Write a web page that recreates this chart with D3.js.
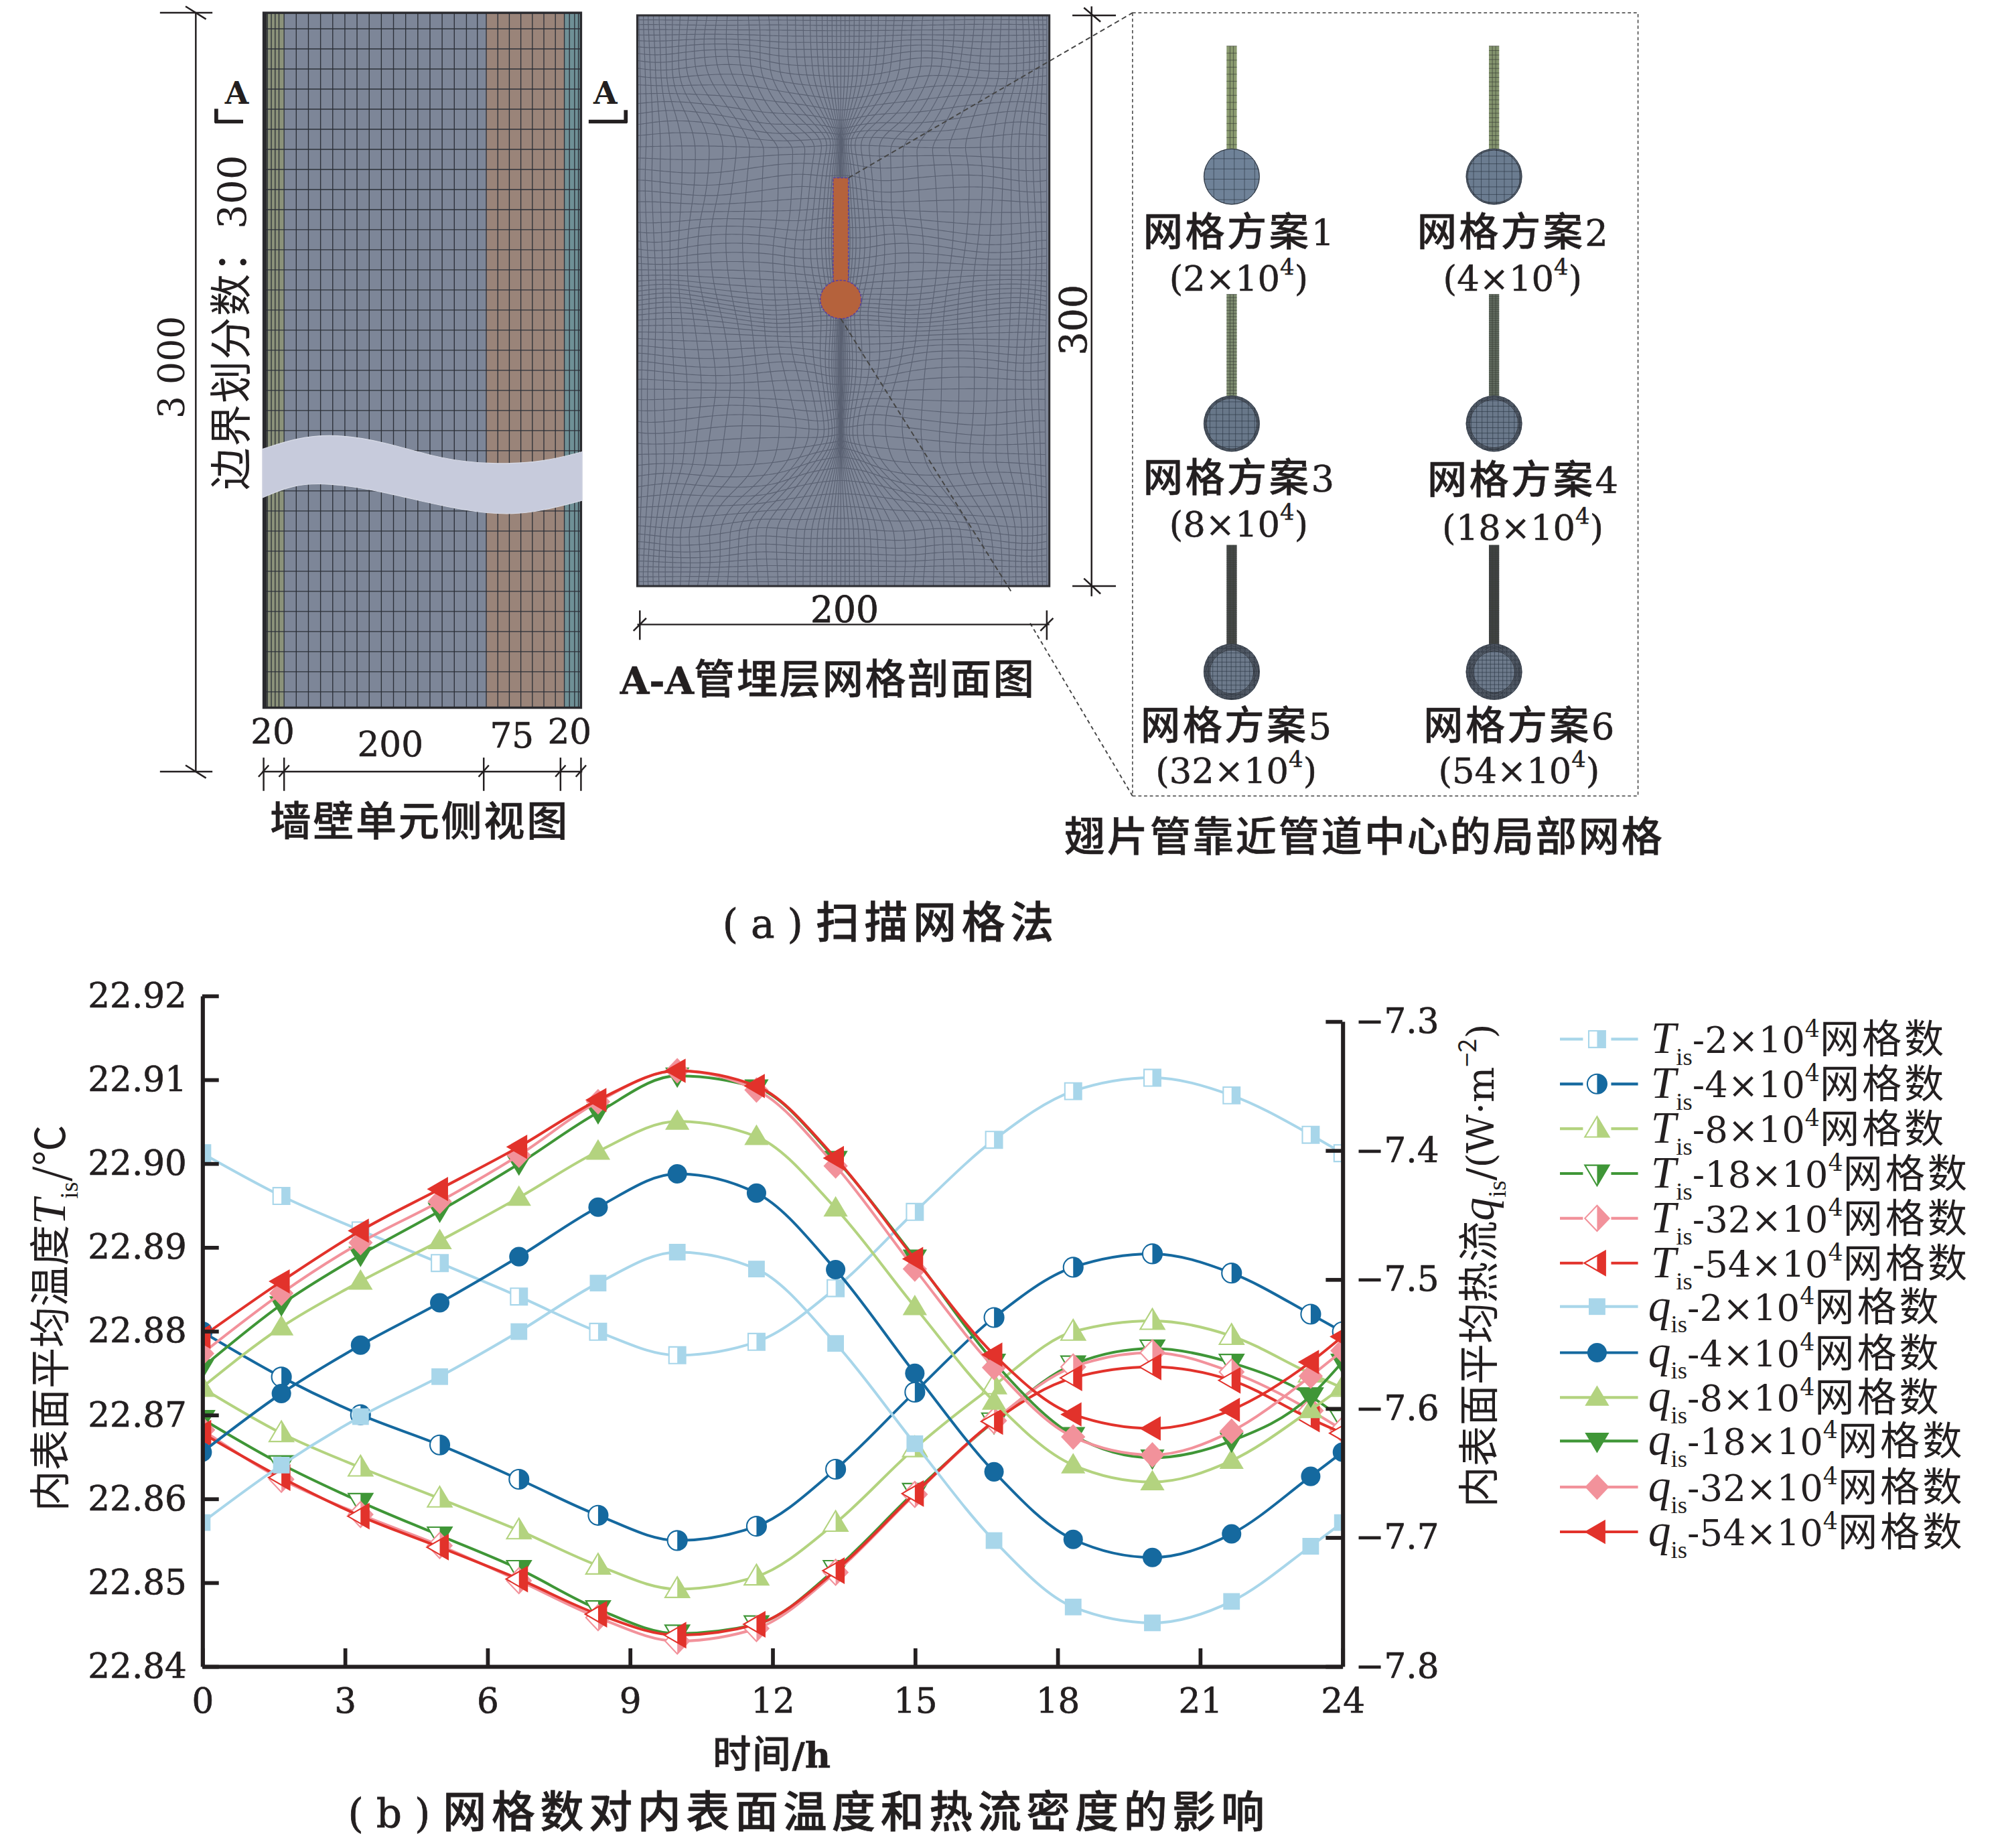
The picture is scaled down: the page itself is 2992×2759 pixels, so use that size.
<!DOCTYPE html>
<html><head><meta charset="utf-8">
<script src="https://cdn.jsdelivr.net/npm/d3@7/dist/d3.min.js"></script>
<style>html,body{margin:0;padding:0;background:#fff}svg{display:block}</style>
</head><body><svg id="c"></svg>
<script>
const hours=[0,1.667,3.333,5,6.667,8.333,10,11.667,13.333,15,16.667,18.333,20,21.667,23.333,24];
const xTicks=[0,3,6,9,12,15,18,21,24];
const yLeftTicks=[22.84,22.85,22.86,22.87,22.88,22.89,22.90,22.91,22.92];
const yRightTicks=[-7.8,-7.7,-7.6,-7.5,-7.4,-7.3];
const meshCounts=["2","4","8","18","32","54"];
const T2=[22.9012,22.8961,22.8920,22.8881,22.8841,22.8799,22.8771,22.8787,22.8851,22.8942,22.9028,22.9086,22.9102,22.9081,22.9034,22.9012];
const T4=[22.8799,22.8745,22.8700,22.8664,22.8623,22.8580,22.8550,22.8567,22.8635,22.8727,22.8816,22.8876,22.8892,22.8869,22.8820,22.8799];
const T8=[22.8732,22.8678,22.8637,22.8600,22.8562,22.8520,22.8492,22.8507,22.8571,22.8660,22.8735,22.8799,22.8812,22.8794,22.8749,22.8732];
const T18=[22.8695,22.8641,22.8596,22.8556,22.8516,22.8468,22.8439,22.8450,22.8516,22.8608,22.8692,22.8760,22.8779,22.8762,22.8722,22.8695];
const T32=[22.8682,22.8623,22.8581,22.8544,22.8502,22.8458,22.8430,22.8445,22.8512,22.8605,22.8693,22.8757,22.8774,22.8751,22.8705,22.8682];
const T54=[22.8678,22.8625,22.8579,22.8542,22.8504,22.8462,22.8437,22.8450,22.8514,22.8606,22.8692,22.8744,22.8757,22.8741,22.8695,22.8678];
const q2=[-7.6886,-7.6441,-7.6065,-7.5755,-7.5406,-7.5030,-7.4790,-7.4921,-7.5498,-7.6275,-7.7026,-7.7541,-7.7664,-7.7498,-7.7070,-7.6886];
const q4=[-7.6341,-7.5886,-7.5511,-7.5183,-7.4825,-7.4441,-7.4183,-7.4332,-7.4926,-7.5729,-7.6493,-7.7017,-7.7157,-7.6974,-7.6528,-7.6341];
const q8=[-7.5838,-7.5371,-7.5017,-7.4703,-7.4367,-7.4009,-7.3777,-7.3895,-7.4450,-7.5214,-7.5948,-7.6441,-7.6572,-7.6406,-7.6013,-7.5838];
const q18=[-7.5685,-7.5196,-7.4812,-7.4471,-7.4105,-7.3707,-7.3423,-7.3515,-7.4070,-7.4834,-7.5642,-7.6210,-7.6384,-7.6253,-7.5904,-7.5642];
const q32=[-7.5576,-7.5109,-7.4716,-7.4397,-7.4039,-7.3624,-7.3384,-7.3533,-7.4122,-7.4921,-7.5685,-7.6223,-7.6362,-7.6179,-7.5751,-7.5554];
const q54=[-7.5445,-7.5017,-7.4624,-7.4301,-7.3974,-7.3611,-7.3384,-7.3502,-7.4061,-7.4843,-7.5585,-7.6048,-7.6157,-7.6013,-7.5642,-7.5445];
const colors=["#a8d6ea","#15699f","#b3d37f","#3f9637","#f2929b","#e2322b"];
const shapes=["square","circle","up","down","diamond","left"];

const W=1566,H=W*2759/2992;
const ink="#231f20",SERIF='"DejaVu Serif","Noto Sans CJK SC",serif',CJK='"Noto Sans CJK SC","DejaVu Serif",sans-serif';
const svg=d3.select("#c").attr("width",2992).attr("height",2759).attr("viewBox",`0 0 ${W} ${H}`);
svg.append("rect").attr("width",W).attr("height",H).attr("fill","#fff");
const defs=svg.append("defs");
defs.append("clipPath").attr("id","rightHalf").append("rect").attr("x",0).attr("y",-20).attr("width",20).attr("height",40);

function rich(sel,parts){
  let shift=0;
  const base=parseFloat(sel.attr("font-size"));
  parts.forEach(p=>{
    const s=sel.append("tspan").text(p.t);
    const target=p.sub?0.3:p.sup?-0.42:0;
    const fs=(p.sub||p.sup)?0.62:1;
    const dy=(target-shift)*base;
    if(dy) s.attr("dy",dy);
    shift=target;
    if(p.sub||p.sup) s.attr("font-size",base*fs);
    if(p.it) s.attr("font-style","italic").attr("font-family",'"Liberation Serif",serif').attr("font-size",base*1.14);
    if(p.ser) s.attr("font-family",SERIF).attr("font-size",(p.sub||p.sup)?base*fs*.95:base*.92);
    if(p.sub) s.attr("font-family",'"Liberation Serif",serif');
    if(p.ls) s.attr("letter-spacing",p.ls);
    if(p.b) s.attr("font-weight",700);
  });
}
function label(x,y,txt,size,opt={}){
  const t=svg.append("text").attr("x",x).attr("y",y).attr("font-size",size)
    .attr("font-family",opt.family||CJK).attr("font-weight",opt.weight||500)
    .attr("fill",ink).attr("text-anchor",opt.anchor||"middle");
  if(opt.rotate) t.attr("transform",`rotate(-90 ${x} ${y})`);
  if(opt.ls) t.attr("letter-spacing",opt.ls);
  if(opt.heavy) t.attr("stroke",ink).attr("stroke-width",opt.heavy);
  if(Array.isArray(txt)) rich(t,txt); else t.text(txt);
  return t;
}
function seg(x1,y1,x2,y2,w=1.3,c=ink,dash){
  const l=svg.append("line").attr("x1",x1).attr("y1",y1).attr("x2",x2).attr("y2",y2).attr("stroke",c).attr("stroke-width",w);
  if(dash) l.attr("stroke-dasharray",dash);
  return l;
}

/* ---------- panel (a): wall side view ---------- */
const wall=svg.append("g");
const wx0=206,wx1=454,wy0=10,wy1=553;
[[206,222,"#8b927a"],[222,380,"#7d8698"],[380,441,"#9a8479"],[441,454,"#6f9096"]].forEach(d=>
  wall.append("rect").attr("x",d[0]).attr("y",wy0).attr("width",d[1]-d[0]).attr("height",wy1-wy0).attr("fill",d[2]));
const vLines=[209,212,215,218,222,231.5,241,250.5,260,269.5,279,288.5,298,307.5,317,326.5,336,345.5,355,364.5,373,380,389,398,407,416,425,434,441,445,449,452];
vLines.forEach(x=>wall.append("line").attr("x1",x).attr("x2",x).attr("y1",wy0).attr("y2",wy1).attr("stroke","#2c3038").attr("stroke-width",.7));
d3.range(wy0+12.5,wy1,15.7).forEach(y=>wall.append("line").attr("x1",wx0).attr("x2",wx1).attr("y1",y).attr("y2",y).attr("stroke","#2c3038").attr("stroke-width",.7));
wall.append("rect").attr("x",wx0).attr("y",wy0).attr("width",wx1-wx0).attr("height",wy1-wy0).attr("fill","none").attr("stroke","#2a2a2e").attr("stroke-width",1.8);
wall.append("rect").attr("x",wx0).attr("y",wy0).attr("width",2.5).attr("height",wy1-wy0).attr("fill","#2a2a2e");
const bandTop=d3.line().curve(d3.curveBasis)([[205,351],[232,342],[262,339],[300,345],[345,359],[385,363],[425,361],[455,353]]);
const bandBot=d3.line().curve(d3.curveBasis)([[455,391],[425,399],[395,403],[350,397],[300,384],[255,377],[228,379],[205,389]]);
wall.append("path").attr("d",bandTop+"L"+bandBot.slice(1)+"Z").attr("fill","#c7cbdc").attr("stroke","#d8dbe6").attr("stroke-width",.6);

seg(153,10,153,603);seg(125,10,166,10);seg(125,603,166,603);seg(145,5,161,15);seg(145,598,161,608);
label(144,287,"3 000",28,{rotate:true,family:SERIF,weight:400});
label(192,252,[{t:"边界划分数：",ls:1},{t:"300",ser:true}],33,{rotate:true,weight:400});
seg(168,95,190,95,3);seg(169,96,169,85,3);
label(185,81,"A",24,{family:SERIF,weight:700});
seg(460,95,490,95,3);seg(489,96,489,86,3);
label(473,81,"A",24,{family:SERIF,weight:700});
seg(205,603,455,603);
[206,222,378,438,454].forEach(x=>{seg(x,592,x,618);seg(x-4,607,x+4,598);});
label(213,581,"20",27,{family:SERIF,weight:400,heavy:.3});
label(305,591,"200",27,{family:SERIF,weight:400,heavy:.3});
label(400,584,"75",27,{family:SERIF,weight:400,heavy:.3});
label(445,581,"20",27,{family:SERIF,weight:400,heavy:.3});
label(328,653,"墙壁单元侧视图",32,{ls:1.4,heavy:.3});

/* ---------- panel (a): A-A section with warped mesh ---------- */
const sx0=498,sx1=820,sy0=12,sy1=458;
svg.append("rect").attr("x",sx0).attr("y",sy0).attr("width",sx1-sx0).attr("height",sy1-sy0).attr("fill","#7f8798");
defs.append("clipPath").attr("id","sec").append("rect").attr("x",sx0).attr("y",sy0).attr("width",sx1-sx0).attr("height",sy1-sy0);
const fx=657,halfW=161,midY=(sy0+sy1)/2,halfH=(sy1-sy0)/2;
const smooth=(a,b,v)=>{const t=Math.max(0,Math.min(1,(v-a)/(b-a)));return t*t*(3-2*t);};
const sCurve=(t,a)=>t-a*Math.sin(2*Math.PI*t)/(2*Math.PI);
const meshBlobs=[[105,44,28,.72],[165,46,30,.42],[236,42,26,.62],[300,54,36,.62],[355,50,28,.66]];
function warp(u,v){                 // u,v in [-1,1]
  const y0=midY+halfH*Math.sign(v)*sCurve(Math.abs(v),.42);
  const yBump=smooth(50,120,y0)*(1-smooth(360,420,y0));
  const g=1+0.35*yBump;
  const dx0=Math.sign(u)*halfW*sCurve(Math.pow(Math.abs(u),g),.42);
  let dx=dx0,y=y0;
  meshBlobs.forEach(b=>{
    const d=dx0,e=y0-b[0];
    const w=b[3]*Math.exp(-d*d/(2*b[1]*b[1])-e*e/(2*b[2]*b[2]));
    dx-=w*d; y-=w*e;
  });
  const edge=(1-Math.abs(u)**6)*(1-Math.abs(v)**6)*smooth(15,70,Math.abs(dx0));
  const wob=edge*4.5;
  return [fx+dx+wob*Math.sin(y0/27+dx0/41)*Math.cos(dx0/17),
          y+wob*Math.sin(dx0/23-y0/49)*Math.cos(y0/15)];
}
const mesh=svg.append("g").attr("clip-path","url(#sec)");
const meshLine=d3.line();
const nx=56,ny=72;
d3.range(nx+1).forEach(i=>{
  const u=-1+2*i/nx;
  mesh.append("path").attr("d",meshLine(d3.range(0,201).map(j=>warp(u,-1+2*j/200)))).attr("fill","none").attr("stroke","#5a6172").attr("stroke-width",.6);
});
d3.range(ny+1).forEach(i=>{
  const v=-1+2*i/ny;
  mesh.append("path").attr("d",meshLine(d3.range(0,201).map(j=>warp(-1+2*j/200,v)))).attr("fill","none").attr("stroke","#5a6172").attr("stroke-width",.6);
});
svg.append("rect").attr("x",sx0).attr("y",sy0).attr("width",sx1-sx0).attr("height",sy1-sy0).attr("fill","none").attr("stroke","#2e2e32").attr("stroke-width",1.6);
svg.append("rect").attr("x",651).attr("y",139).attr("width",12).attr("height",84).attr("fill","#b5623c").attr("stroke","#5a3fa0").attr("stroke-width",.8).attr("stroke-dasharray","2 1");
svg.append("ellipse").attr("cx",657).attr("cy",234).attr("rx",16).attr("ry",15).attr("fill","#b5623c").attr("stroke","#5a3fa0").attr("stroke-width",.8).attr("stroke-dasharray","2 1");
seg(663,139,885,10,1,"#444","4 2.5");
seg(657,249,790,462,1,"#444","4 2.5");
seg(805,487,885,622,1,"#444","3 2.5");
seg(853,5,853,466);seg(838,12,872,12);seg(838,458,872,458);seg(847,6,860,17);seg(847,452,860,464);
label(849,250,"300",29,{rotate:true,family:SERIF,weight:400,heavy:.3});
seg(498,488,820,488);seg(500,477,500,500);seg(818,477,818,500);seg(495,493,505,483);seg(813,493,823,483);
label(660,486,"200",28,{family:SERIF,weight:400,heavy:.4});
label(647,542,[{t:"A-A",ser:true,b:true},{t:"管埋层网格剖面图",ls:1.4}],32,{family:CJK,heavy:.3});

/* ---------- panel (a): local mesh schemes ---------- */
svg.append("rect").attr("x",885).attr("y",10).attr("width",395).attr("height",612).attr("fill","none").attr("stroke","#555").attr("stroke-width",.9).attr("stroke-dasharray","2.5 2");
const finCols=[962.5,1167.5],finRows=[[36,138],[230,331],[426,525]];
const cell=[8,6,5,4.2,3.6,3.2];
const finCol=["#8a9a6f","#84946e","#7c8a6e","#626c60","#47494a","#404244"];
const ballCol=["#6f8298","#6b7c90","#687789","#6a788a","#6d7a8b","#6d7a8b"];
const rings=[1,2,3,4,6,7];
meshCounts.forEach((m,i)=>{
  const cx=finCols[i%2],[ft,cy]=finRows[Math.floor(i/2)],g=svg.append("g");
  const rx=22,ry=22;
  g.append("rect").attr("x",cx-4).attr("y",ft).attr("width",8).attr("height",cy-ry-ft+2).attr("fill",finCol[i]);
  d3.range(ft,cy-ry,Math.max(1.5,cell[i]-2.5)).forEach(y=>g.append("line").attr("x1",cx-4).attr("x2",cx+4).attr("y1",y).attr("y2",y).attr("stroke","#3b4038").attr("stroke-width",.35));
  [-1.3,1.3].forEach(o=>g.append("line").attr("x1",cx+o).attr("x2",cx+o).attr("y1",ft).attr("y2",cy-ry).attr("stroke","#3b4038").attr("stroke-width",.35));
  g.append("ellipse").attr("cx",cx).attr("cy",cy).attr("rx",rx).attr("ry",ry).attr("fill",ballCol[i]);
  const id="ball"+i;
  defs.append("clipPath").attr("id",id).append("ellipse").attr("cx",cx).attr("cy",cy).attr("rx",rx).attr("ry",ry);
  const mg=g.append("g").attr("clip-path",`url(#${id})`);
  d3.range(-22,23,cell[i]).forEach(o=>{
    mg.append("line").attr("x1",cx+o).attr("x2",cx+o).attr("y1",cy-ry).attr("y2",cy+ry).attr("stroke","#2f3a48").attr("stroke-width",.35);
    mg.append("line").attr("y1",cy+o).attr("y2",cy+o).attr("x1",cx-rx).attr("x2",cx+rx).attr("stroke","#2f3a48").attr("stroke-width",.35);
  });
  d3.range(rings[i]).forEach(k=>g.append("ellipse").attr("cx",cx).attr("cy",cy).attr("rx",rx-.4-k*.9).attr("ry",ry-.4-k*.9).attr("fill","none").attr("stroke","#2a2d33").attr("stroke-width",.5));
});
const schemeLab=[[968,192,227],[1182,192,227],[968,384,419],[1190,386,422],[966,578,612],[1187,578,612]];
meshCounts.forEach((m,i)=>{
  const [x,y1,y2]=schemeLab[i];
  label(x,y1,[{t:"网格方案",ls:1.8},{t:String(i+1),ser:true}],31,{heavy:.25});
  label(x,y2,[{t:"("+m+"×10",ser:true},{t:"4",sup:true,ser:true},{t:")",ser:true}],30,{heavy:.25});
});
label(1066,665,"翅片管靠近管道中心的局部网格",32,{ls:1.5,heavy:.3});
label(696,733,[{t:"( a ) ",ser:true},{t:"扫描网格法",ls:4}],34,{heavy:.4});

/* ---------- panel (b): line chart ---------- */
const px0=158,px1=1049,pyB=1302;
const x=d3.scaleLinear().domain([0,24]).range([px0,px1]);
const yL=d3.scaleLinear().domain([22.84,22.92]).range([pyB,778]);
const yR=d3.scaleLinear().domain([-7.8,-7.3]).range([pyB,798]);
defs.append("clipPath").attr("id","plot").append("rect").attr("x",px0-1).attr("y",760).attr("width",px1-px0+2).attr("height",560);

function shapePath(s){
  const p={
    square:"M-6.5,-6.5H6.5V6.5H-6.5Z",
    circle:"M-7.6,0A7.6,7.6 0 1,1 7.6,0A7.6,7.6 0 1,1 -7.6,0Z",
    up:"M0,-9.5L9.5,6.5H-9.5Z",
    down:"M0,9.5L9.5,-6.5H-9.5Z",
    diamond:"M0,-10L9.5,0L0,10L-9.5,0Z",
    left:"M-10,0L6.5,-9.5V9.5Z"
  };
  return p[s];
}
function marker(g,px,py,s,c,half){
  const m=g.append("g").attr("transform",`translate(${px},${py})`);
  if(half){
    m.append("path").attr("d",shapePath(s)).attr("fill","#fff").attr("stroke",c).attr("stroke-width",1.1);
    m.append("path").attr("d",shapePath(s)).attr("fill",c).attr("clip-path","url(#rightHalf)");
  } else {
    m.append("path").attr("d",shapePath(s)).attr("fill",c);
  }
}
const line=(yS)=>d3.line().x((d,i)=>x(hours[i])).y(d=>yS(d)).curve(d3.curveMonotoneX);
const plot=svg.append("g").attr("clip-path","url(#plot)");
[T2,T4,T8,T18,T32,T54].forEach((v,i)=>{
  const g=plot.append("g");
  g.append("path").attr("d",line(yL)(v)).attr("fill","none").attr("stroke",colors[i]).attr("stroke-width",2.1);
  v.forEach((d,j)=>marker(g,x(hours[j]),yL(d),shapes[i],colors[i],true));
});
[q2,q4,q8,q18,q32,q54].forEach((v,i)=>{
  const g=plot.append("g");
  g.append("path").attr("d",line(yR)(v)).attr("fill","none").attr("stroke",colors[i]).attr("stroke-width",2.1);
  v.forEach((d,j)=>marker(g,x(hours[j]),yR(d),shapes[i],colors[i],false));
});
function styleAxis(g){
  g.selectAll("path.domain").attr("stroke",ink).attr("stroke-width",3.2);
  g.selectAll(".tick line").attr("stroke",ink).attr("stroke-width",3);
  g.selectAll("text").attr("font-family",SERIF).attr("font-size",27).attr("fill",ink).attr("stroke",ink).attr("stroke-width",.35);
}
svg.append("g").attr("transform",`translate(0,${pyB})`)
  .call(d3.axisBottom(x).tickValues(xTicks).tickFormat(d3.format("d")).tickSizeInner(-14).tickSizeOuter(0).tickPadding(17))
  .call(styleAxis);
svg.append("g").attr("transform",`translate(${px0},0)`)
  .call(d3.axisLeft(yL).tickValues(yLeftTicks).tickFormat(d3.format(".2f")).tickSizeInner(-13).tickSizeOuter(0).tickPadding(12))
  .call(styleAxis);
svg.append("g").attr("transform",`translate(${px1},0)`)
  .call(d3.axisRight(yR).tickValues(yRightTicks).tickFormat(d=>"\u2212"+Math.abs(d).toFixed(1)).tickSizeInner(-13).tickSizeOuter(0).tickPadding(10))
  .call(styleAxis);

label(51,1030,[{t:"内表面平均温度"},{t:"T",it:true},{t:"is",sub:true},{t:"/℃"}],32,{rotate:true,weight:400});
label(1167,989,[{t:"内表面平均热流"},{t:"q",it:true},{t:"is",sub:true},{t:"/(W·m",ser:true},{t:"−2",sup:true},{t:")",ser:true}],32,{rotate:true,weight:400});
label(603,1381,[{t:"时间",ls:1},{t:"/h",ser:true,b:true}],30,{heavy:.3});
label(632,1428,[{t:"( b ) ",ser:true},{t:"网格数对内表面温度和热流密度的影响",ls:4}],34,{heavy:.4});

// legend
const legY=[812,847,882,917,952,987,1021,1057,1092,1126,1162,1197];
const legendNames=["T","T","T","T","T","T","q","q","q","q","q","q"];
legendNames.forEach((n,i)=>{
  const idx=i%6,half=i<6,y=legY[i],c=colors[idx];
  const g=svg.append("g");
  g.append("line").attr("x1",1219).attr("x2",1280).attr("y1",y).attr("y2",y).attr("stroke",c).attr("stroke-width",2.2);
  if(half) g.append("rect").attr("x",1237).attr("y",y-11).attr("width",22).attr("height",22).attr("fill","#fff");
  marker(g,1248,y,shapes[idx],c,half);
  const t=svg.append("text").attr("x",half?1290:1288).attr("y",y+11).attr("font-size",31).attr("fill",ink).attr("font-family",CJK).attr("text-anchor","start");
  rich(t,[{t:n,it:true},{t:"is",sub:true},{t:"-"+meshCounts[idx]+"×10",ser:true},{t:"4",sup:true,ser:true},{t:"网格数",ls:2}]);
});
</script></body></html>
